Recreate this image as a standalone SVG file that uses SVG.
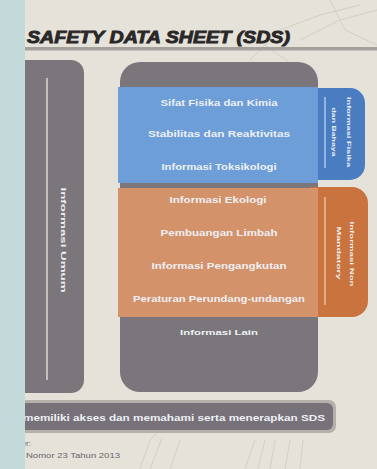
<svg xmlns="http://www.w3.org/2000/svg" width="377" height="469" viewBox="0 0 377 469">
<style>
.t{font-family:"Liberation Sans",Arial,sans-serif;font-weight:bold;fill:#eef0f3;text-anchor:middle;dominant-baseline:central}
.sk{fill:none;stroke:#d2cec6;stroke-width:1}
.grey{fill:#7b767c}
.ft{font-family:"Liberation Sans",Arial,sans-serif;font-size:8px;fill:#6b6668;dominant-baseline:central}
</style>
<rect x="0" y="0" width="377" height="469" fill="#e5e2da"/>
<g id="sketch">
<path class="sk" d="M250 60 L280 30 L320 15 L360 5 M300 40 L340 20 L377 10 M330 0 L345 30 L377 45 M265 45 L300 70"/>
<path class="sk" d="M140 469 L150 440 L160 430 M150 469 L162 438 M170 469 L180 440 M245 469 L255 440 M258 469 L265 440 M270 469 L275 440 M285 469 L290 440 M300 469 L303 440"/>
</g>
<g id="title">
<text x="27" y="37" font-family="'Liberation Sans',Arial,sans-serif" font-weight="bold" font-style="italic" font-size="17" fill="#2a2728" textLength="263" lengthAdjust="spacingAndGlyphs" dominant-baseline="central" stroke="#2a2728" stroke-width="0.9">SAFETY DATA SHEET (SDS)</text>
<rect x="25" y="47" width="352" height="3.5" fill="#a6a09d"/>
</g>
<g id="informasi-umum">
<path class="grey" d="M25 60 H71 A13 13 0 0 1 84 73 V380 A13 13 0 0 1 71 393 H25 Z"/>
<line x1="47" y1="78" x2="47" y2="380" stroke="#cdc8c0" stroke-width="1.8"/>
<text class="t" font-size="8" transform="translate(63,240) rotate(90)" textLength="105" lengthAdjust="spacingAndGlyphs">Informasi Umum</text>
</g>
<g id="sections">
<path class="grey" d="M140 62 H298 A20 20 0 0 1 318 82 V372 A20 20 0 0 1 298 392 H140 A20 20 0 0 1 120 372 V82 A20 20 0 0 1 140 62 Z"/>
<text class="t" font-size="8" x="219" y="332" textLength="78" lengthAdjust="spacingAndGlyphs">Informasi Lain</text>
</g>
<g id="blue-tab">
<path d="M310 88 H350 A15 15 0 0 1 365 103 V165 A15 15 0 0 1 350 180 H310 Z" fill="#4a7cc2"/>
<line x1="325" y1="97" x2="325" y2="168" stroke="#9dbbe3" stroke-width="1.8"/>
<text class="t" font-size="6" transform="translate(349,132) rotate(90)" textLength="70" lengthAdjust="spacingAndGlyphs">Informasi Fisika</text>
<text class="t" font-size="6" transform="translate(334,132) rotate(90)" textLength="49" lengthAdjust="spacingAndGlyphs">dan Bahaya</text>
</g>
<g id="blue-section">
<rect x="118" y="87" width="200" height="96" fill="#6d9ed8"/>
<text class="t" font-size="8.5" x="219" y="103" textLength="117" lengthAdjust="spacingAndGlyphs">Sifat Fisika dan Kimia</text>
<text class="t" font-size="8.5" x="219" y="134" textLength="142" lengthAdjust="spacingAndGlyphs">Stabilitas dan Reaktivitas</text>
<text class="t" font-size="8.5" x="219" y="167" textLength="115" lengthAdjust="spacingAndGlyphs">Informasi Toksikologi</text>
</g>
<g id="orange-tab">
<path d="M310 187 H352 A16 16 0 0 1 368 203 V301 A16 16 0 0 1 352 317 H310 Z" fill="#c9743f"/>
<line x1="325" y1="197" x2="325" y2="305" stroke="#e6b08e" stroke-width="1.8"/>
<text class="t" font-size="6" transform="translate(352,254) rotate(90)" textLength="65" lengthAdjust="spacingAndGlyphs">Informasi Non</text>
<text class="t" font-size="6" transform="translate(339,253) rotate(90)" textLength="53" lengthAdjust="spacingAndGlyphs">Mandatory</text>
</g>
<g id="orange-section">
<rect x="118" y="188" width="200" height="129" fill="#d4926b"/>
<text class="t" font-size="8.5" x="218" y="200" textLength="97" lengthAdjust="spacingAndGlyphs">Informasi Ekologi</text>
<text class="t" font-size="8.5" x="219" y="233" textLength="117" lengthAdjust="spacingAndGlyphs">Pembuangan Limbah</text>
<text class="t" font-size="8.5" x="219" y="266" textLength="135" lengthAdjust="spacingAndGlyphs">Informasi Pengangkutan</text>
<text class="t" font-size="8.5" x="219" y="299" textLength="172" lengthAdjust="spacingAndGlyphs">Peraturan Perundang-undangan</text>
</g>
<g id="bottom-bar">
<rect x="-10" y="400" width="346" height="33" rx="7" fill="#b6b0ab"/>
<rect x="-10" y="403" width="343" height="27" rx="6" fill="#77717a"/>
<text class="t" font-size="8.5" x="325" y="418" textLength="302" lengthAdjust="spacingAndGlyphs" style="text-anchor:end">memiliki akses dan memahami serta menerapkan SDS</text>
</g>
<g id="footer">
<text class="ft" x="31" y="443" text-anchor="end">Sumber:</text>
<text class="ft" x="26" y="455" textLength="94" lengthAdjust="spacingAndGlyphs">Nomor 23 Tahun 2013</text>
</g>
<rect id="strip" x="0" y="0" width="25" height="469" fill="#c4d9d9"/>
</svg>
